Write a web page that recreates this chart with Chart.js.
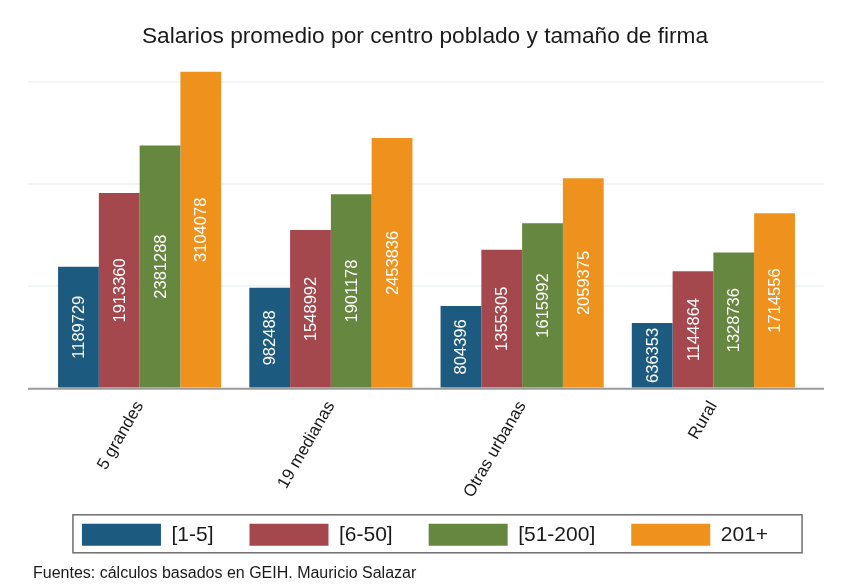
<!DOCTYPE html>
<html>
<head>
<meta charset="utf-8">
<script src="https://cdn.jsdelivr.net/npm/chart.js@4.4.1/dist/chart.umd.min.js"></script>
<style>
  html, body { margin: 0; padding: 0; background: #fff; }
</style>
</head>
<body>
<canvas id="c" width="844" height="587"></canvas>
<script>
// ---- DATA ----
const categories = ['5 grandes', '19 medianas', 'Otras urbanas', 'Rural'];
const sizeLabels = ['[1-5]', '[6-50]', '[51-200]', '201+'];
const size1to5 = [1189729, 982488, 804396, 636353];
const size6to50 = [1913360, 1548992, 1355305, 1144864];
const size51to200 = [2381288, 1901178, 1615992, 1328736];
const size201plus = [3104078, 2453836, 2059375, 1714556];
const gridValues = [1000000, 2000000, 3000000];

const FONT = "'Liberation Sans', Arial, sans-serif";
const colors = ['#1d5a7f', '#a4484e', '#66873f', '#ee921d'];
const seriesData = [size1to5, size6to50, size51to200, size201plus];

// ---- PLUGIN: grid lines, baseline, bar labels, legend frame ----
const extras = {
  id: 'extras',
  beforeDatasetsDraw(chart) {
    const { ctx, chartArea: a, scales: { y } } = chart;
    ctx.save();
    ctx.strokeStyle = '#edf2f3';
    ctx.lineWidth = 1.5;
    gridValues.forEach(v => {
      const py = Math.round(y.getPixelForValue(v));
      ctx.beginPath();
      ctx.moveTo(a.left - 16, py);
      ctx.lineTo(a.right + 15, py);
      ctx.stroke();
    });
    ctx.restore();
  },
  afterDatasetsDraw(chart) {
    const { ctx, chartArea: a, scales: { y } } = chart;
    ctx.save();
    // axis line
    const by = y.getPixelForValue(0) + 1;
    ctx.strokeStyle = '#9a9a9a';
    ctx.lineWidth = 2;
    ctx.beginPath();
    ctx.moveTo(a.left - 16, by);
    ctx.lineTo(a.right + 15, by);
    ctx.stroke();
    // value labels inside bars
    ctx.fillStyle = '#fff';
    ctx.font = '16.5px ' + FONT;
    ctx.textAlign = 'center';
    ctx.textBaseline = 'middle';
    chart.data.datasets.forEach((ds, i) => {
      chart.getDatasetMeta(i).data.forEach((bar, j) => {
        ctx.save();
        ctx.translate(bar.x, (bar.y + bar.base) / 2);
        ctx.rotate(-Math.PI / 2);
        ctx.fillText(String(ds.data[j]), 0, 1);
        ctx.restore();
      });
    });
    ctx.restore();
  },
  afterDraw(chart) {
    const boxes = chart.legend && chart.legend.legendHitBoxes;
    if (!boxes || !boxes.length) return;
    const first = boxes[0], last = boxes[boxes.length - 1];
    const { ctx } = chart;
    ctx.save();
    ctx.strokeStyle = '#6e6e6e';
    ctx.lineWidth = 1.5;
    const x0 = first.left - 9, x1 = last.left + last.width + 34;
    const y0 = first.top - 9, y1 = first.top + 22 + 7;
    ctx.strokeRect(x0, y0, x1 - x0, y1 - y0);
    ctx.restore();
  }
};

// ---- CHART ----
new Chart(document.getElementById('c'), {
  type: 'bar',
  data: {
    labels: categories,
    datasets: sizeLabels.map((lab, i) => ({
      label: lab,
      data: seriesData[i],
      backgroundColor: colors[i],
      borderWidth: 0,
      categoryPercentage: 0.853,
      barPercentage: 1
    }))
  },
  options: {
    responsive: false,
    animation: false,
    layout: { padding: { left: 33, right: 27, top: 0, bottom: 0 } },
    plugins: {
      title: {
        display: true,
        text: 'Salarios promedio por centro poblado y tamaño de firma',
        color: '#1a1a1a',
        font: { family: FONT, size: 22.7, weight: 'normal' },
        padding: { top: 23, bottom: 11.8 }
      },
      subtitle: {
        display: true,
        position: 'bottom',
        align: 'start',
        text: 'Fuentes: cálculos basados en GEIH. Mauricio Salazar',
        color: '#1a1a1a',
        font: { family: FONT, size: 16, weight: 'normal' },
        padding: { top: 8, bottom: 4 }
      },
      legend: {
        position: 'bottom',
        labels: {
          boxWidth: 79,
          boxHeight: 22,
          padding: 36,
          color: '#1a1a1a',
          font: { family: FONT, size: 21 }
        }
      },
      tooltip: { enabled: false }
    },
    scales: {
      x: {
        grid: { display: false },
        border: { display: false },
        ticks: {
          color: '#1a1a1a',
          font: { family: FONT, size: 17 },
          maxRotation: 60,
          minRotation: 60,
          padding: 2
        },
        afterFit(scale) {
          scale.height = 100;
          // long rotated labels run a little past the axis box
          scale._computeLabelArea = () => null;
        }
      },
      y: {
        min: 0,
        max: 3200000,
        grid: { display: false },
        border: { display: false },
        ticks: { display: false },
        afterFit(scale) { scale.width = 11; }
      },
      yr: {
        position: 'right',
        min: 0,
        max: 3200000,
        grid: { display: false },
        border: { display: false },
        ticks: { display: false },
        afterFit(scale) { scale.width = 8; }
      }
    }
  },
  plugins: [extras]
});
</script>
</body>
</html>
